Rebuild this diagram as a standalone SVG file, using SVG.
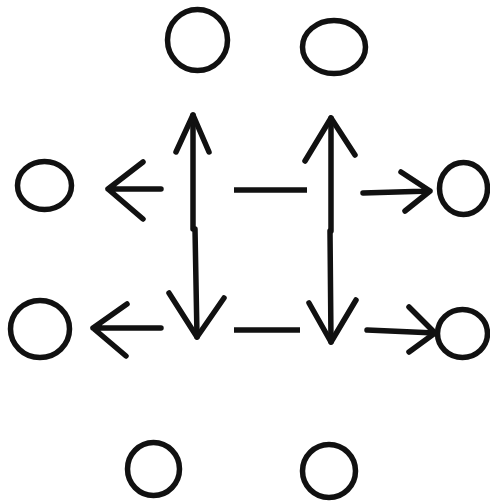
<svg xmlns="http://www.w3.org/2000/svg" width="490" height="502" viewBox="0 0 490 502">
<style>
.n{fill:none;stroke:#111;stroke-width:5.5}
.c{fill:none;stroke:#111;stroke-width:5.5;stroke-linecap:round;stroke-linejoin:round}
.s{fill:none;stroke:#111;stroke-width:5.5;stroke-linecap:butt}
</style>
<rect width="490" height="502" fill="#fff"/>
<g id="top-left"><ellipse class="n" cx="197.5" cy="40" rx="30" ry="30.5"/></g>
<g id="top-right"><ellipse class="n" cx="334" cy="47" rx="31.5" ry="26.5"/></g>
<g id="left-top"><ellipse class="n" cx="44.5" cy="185.5" rx="27" ry="24"/></g>
<g id="left-bottom"><ellipse class="n" cx="40" cy="329" rx="29.5" ry="28.5"/></g>
<g id="right-top"><ellipse class="n" cx="463.5" cy="188.5" rx="24" ry="26"/></g>
<g id="right-bottom"><ellipse class="n" cx="462.5" cy="333.5" rx="25" ry="24"/></g>
<g id="bottom-left"><ellipse class="n" cx="153.5" cy="469" rx="26" ry="26.5"/></g>
<g id="bottom-right"><ellipse class="n" cx="329" cy="471" rx="26.5" ry="26.5"/></g>
<g id="connectors">
  <!-- left top arrow -->
  <path class="c" d="M161 189 L108 189 M143 162 L108 189 L143 219"/>
  <!-- left bottom arrow -->
  <path class="c" d="M161 328 L93 328 M127 304 L93 328 L126 356"/>
  <!-- left vertical double arrow -->
  <path class="c" d="M193 115 L193 229"/>
  <path class="c" d="M195 229 L197 337"/>
  <path class="c" d="M176 152 L193 115 L209 152"/>
  <path class="c" d="M169 293 L197 337 L224 298"/>
  <!-- middle dashes -->
  <path class="s" d="M234 190 L307 190"/>
  <path class="s" d="M234 330 L300 330"/>
  <!-- right vertical double arrow -->
  <path class="c" d="M331 118 L331 231"/>
  <path class="c" d="M330 231 L331 342"/>
  <path class="c" d="M305 161 L331 118 L355 155"/>
  <path class="c" d="M309 303 L331 342 L356 300"/>
  <!-- right top arrow -->
  <path class="c" d="M363 193 L430 191 M401 172 L430 191 L405 211"/>
  <!-- right bottom arrow -->
  <path class="c" d="M367 330 L435 333 M409 307 L435 333 L409 352"/>
</g>
</svg>
